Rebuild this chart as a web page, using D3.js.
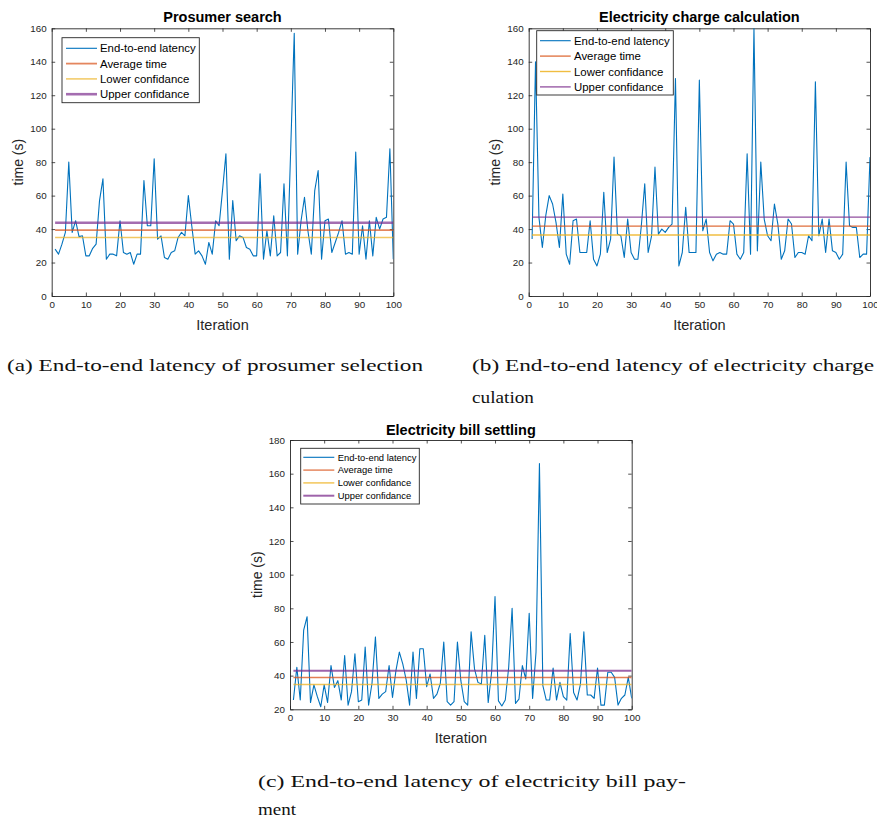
<!DOCTYPE html>
<html>
<head>
<meta charset="utf-8">
<script src="https://cdn.jsdelivr.net/npm/d3@7"></script>
<style>
body { margin: 0; background: #fff; }
svg text { font-family: "Liberation Sans", Arial, Helvetica, sans-serif; }
svg text.caption { font-family: "Liberation Serif", "Times New Roman", serif; fill: #111; }
</style>
</head>
<body>
<div id="svgContainer"></div>
<script>

var iterations = d3.range(1, 101);

// (a) prosumer search
var searchLatency = [28, 25, 31, 38, 80, 38, 45, 35.5, 36, 24,
                     24, 28.5, 31, 57, 70, 22, 25, 25, 24, 45,
                     26, 25, 26, 19, 25, 25, 69, 42, 42, 82,
                     34, 36, 23, 22, 26, 27, 35, 38, 36, 60,
                     42, 25, 27, 24, 19, 32, 25, 45, 42, 63,
                     85, 22, 57, 33, 36, 35, 29, 28, 24, 24,
                     73, 22, 39, 24, 48, 24, 26, 67, 24, 90,
                     157, 25, 45, 59, 39, 25, 63, 75, 22, 45,
                     46, 26, 32, 38, 45, 25, 26, 25, 86, 25,
                     42, 22, 45, 24, 47, 40, 46, 47, 88, 22];
var searchStats = [39.4, 35, 43.8];   // average, lower, upper

// (b) electricity charge calculation
var chargeLatency = [34, 140, 47, 29, 48, 60, 55, 44, 29, 61,
                     25, 19, 45, 46, 26, 26, 26, 45, 22, 18,
                     25, 62, 26, 34, 83, 37, 36, 23, 46, 26,
                     22, 22, 42, 67, 26, 36, 77, 37, 40, 38,
                     41, 43, 130, 18, 26, 53, 26, 26, 26, 129,
                     39, 46, 26, 21, 25, 26, 25, 25, 45, 43,
                     25, 22, 26, 85, 25, 160, 27, 80, 46, 36,
                     33, 55, 43, 22, 27, 46, 43, 23, 26, 26,
                     25, 36, 33, 128, 36, 46, 26, 46, 27, 26,
                     22, 25, 80, 42, 41, 41, 23, 25, 25, 83];
var chargeStats = [41.8, 36.5, 47.2];

// (c) electricity bill settling
var billLatency = [25.5, 45, 25.5, 67, 75, 24, 34.5, 27.5, 21.5, 34.5,
                   24, 46, 33, 37, 25.5, 52, 22.5, 30.5, 53, 24.5,
                   25.5, 57, 22.5, 35.5, 63, 26.5, 29, 30.5, 46, 27,
                   43, 54, 47, 37.5, 22.5, 54, 26.5, 56, 56, 33.5,
                   41, 26.5, 29, 35.5, 60, 24.5, 22.5, 24.5, 60, 37,
                   24.5, 22.5, 66, 44, 36, 35, 64, 24, 42, 87,
                   25, 22, 25.5, 45, 80, 23.5, 26, 46, 38, 77,
                   26.5, 54, 166, 34, 25.5, 25.5, 44.5, 25.5, 36, 27.5,
                   25.5, 65, 30, 25.5, 35, 66, 28.5, 28.5, 26.5, 44.5,
                   22.5, 22.5, 42, 42, 39, 22.5, 26.5, 28.5, 39, 26.5];
var billStats = [38.9, 34.8, 42.9];

var legendLabels = ["End-to-end latency", "Average time", "Lower confidance", "Upper confidance"];
var seriesColors = ["#0072BD", "#D95319", "#EDB120", "#7E2F8E"];
var xTickValues = [0, 10, 20, 30, 40, 50, 60, 70, 80, 90, 100];
var yTicksFromZero = [0, 20, 40, 60, 80, 100, 120, 140, 160];
var yTicksFromTwenty = [20, 40, 60, 80, 100, 120, 140, 160, 180];

var AXIS_COLOR = "#262626";
var TICK_LEN = 3.5;

var svg = d3.select("#svgContainer").append("svg")
            .attr("width", 877)
            .attr("height", 821);

var panels = [
    { id: "a", title: "Prosumer search", latency: searchLatency, stats: searchStats,
      yDomain: [0, 160], yTicks: yTicksFromZero,
      left: 51.7, right: 393.3, top: 28.3, bottom: 296, titleY: 22,
      legend: { x0: 62, y0: 37.7, x1: 199.3, y1: 102.7, row0: 48.3, rowH: 15.3,
                lx0: 66, lx1: 97, tx: 100, size: 11.4 },
      statWidth: [1.8, 1.5, 2.6], statOpacity: 0.7, yLabelX: 23 },
    { id: "b", title: "Electricity charge calculation", latency: chargeLatency, stats: chargeStats,
      yDomain: [0, 160], yTicks: yTicksFromZero,
      left: 528.7, right: 870, top: 28.3, bottom: 296, titleY: 22,
      legend: { x0: 536.7, y0: 30.7, x1: 673.3, y1: 95, row0: 40.7, rowH: 15.4,
                lx0: 540, lx1: 570.7, tx: 574, size: 11.4 },
      statWidth: [1.3, 1.4, 1.3], statOpacity: 0.85, yLabelX: 500 },
    { id: "c", title: "Electricity bill settling", latency: billLatency, stats: billStats,
      yDomain: [20, 180], yTicks: yTicksFromTwenty,
      left: 290, right: 631.7, top: 440, bottom: 709.3, titleY: 434.5,
      legend: { x0: 300.7, y0: 448.3, x1: 419.3, y1: 504, row0: 457.3, rowH: 12.8,
                lx0: 303.3, lx1: 334.3, tx: 337.7, size: 9.4 },
      statWidth: [1.4, 1.5, 2], statOpacity: 0.75, yLabelX: 262 }
];


function drawPanel(p)
{
    var x = d3.scaleLinear().domain([0, 100]).range([p.left, p.right]);
    var y = d3.scaleLinear().domain(p.yDomain).range([p.bottom, p.top]);
    var g = svg.append("g").attr("class", "panel-" + p.id);

    g.append("clipPath").attr("id", "clip-" + p.id)
     .append("rect")
     .attr("x", p.left).attr("y", p.top)
     .attr("width", p.right - p.left).attr("height", p.bottom - p.top);

    // inward ticks on all four sides, like matlab with box on
    var axes = [
        { gen: d3.axisBottom(x).tickValues(xTickValues).tickSizeInner(-TICK_LEN), at: "translate(0," + p.bottom + ")", labels: true },
        { gen: d3.axisTop(x).tickValues(xTickValues).tickSizeInner(-TICK_LEN), at: "translate(0," + p.top + ")", labels: false },
        { gen: d3.axisLeft(y).tickValues(p.yTicks).tickSizeInner(-TICK_LEN), at: "translate(" + p.left + ",0)", labels: true },
        { gen: d3.axisRight(y).tickValues(p.yTicks).tickSizeInner(-TICK_LEN), at: "translate(" + p.right + ",0)", labels: false }
    ];
    axes.forEach(function(a) {
        var ax = g.append("g").attr("transform", a.at)
                  .call(a.gen.tickSizeOuter(0).tickPadding(5));
        ax.select(".domain").attr("stroke", AXIS_COLOR).attr("stroke-width", 0.9);
        ax.selectAll(".tick line").attr("stroke", AXIS_COLOR).attr("stroke-width", 0.8);
        ax.selectAll(".tick text")
          .attr("fill", AXIS_COLOR)
          .style("font-size", "9.8px")
          .style("display", a.labels ? null : "none");
    });

    var plot = g.append("g").attr("clip-path", "url(#clip-" + p.id + ")");

    var line = d3.line()
                 .x(function(d, i) { return x(iterations[i]); })
                 .y(function(d) { return y(d); });

    plot.append("path")
        .datum(p.latency)
        .attr("d", line)
        .attr("fill", "none")
        .attr("stroke", seriesColors[0])
        .attr("stroke-width", 1.1)
        .attr("stroke-linejoin", "round");

    p.stats.forEach(function(v, k) {
        plot.append("line")
            .attr("x1", x(iterations[0])).attr("x2", x(iterations[iterations.length - 1]))
            .attr("y1", y(v)).attr("y2", y(v))
            .attr("stroke", seriesColors[k + 1])
            .attr("stroke-opacity", p.statOpacity)
            .attr("stroke-width", p.statWidth[k]);
    });

    // title and axis labels
    g.append("text")
     .attr("x", (p.left + p.right) / 2).attr("y", p.titleY)
     .attr("text-anchor", "middle")
     .style("font-size", "14.5px").style("font-weight", "bold")
     .attr("fill", "#000")
     .text(p.title);

    g.append("text")
     .attr("x", (p.left + p.right) / 2).attr("y", p.bottom + 34)
     .attr("text-anchor", "middle")
     .style("font-size", "14.5px")
     .attr("fill", AXIS_COLOR)
     .text("Iteration");

    g.append("text")
     .attr("transform", "translate(" + p.yLabelX + "," + ((p.top + p.bottom) / 2) + ") rotate(-90)")
     .attr("text-anchor", "middle")
     .style("font-size", "14px")
     .attr("fill", AXIS_COLOR)
     .text("time (s)");

    // legend
    var L = p.legend;
    var leg = g.append("g");
    leg.append("rect")
       .attr("x", L.x0).attr("y", L.y0)
       .attr("width", L.x1 - L.x0).attr("height", L.y1 - L.y0)
       .attr("fill", "#fff")
       .attr("stroke", AXIS_COLOR).attr("stroke-width", 0.9);

    var rows = leg.selectAll(".row")
                  .data(legendLabels)
                  .enter().append("g")
                  .attr("class", "row")
                  .attr("transform", function(d, i) { return "translate(0," + (L.row0 + i * L.rowH) + ")"; });
    rows.append("line")
        .attr("x1", L.lx0).attr("x2", L.lx1)
        .attr("stroke", function(d, i) { return seriesColors[i]; })
        .attr("stroke-opacity", function(d, i) { return i === 0 ? 1 : p.statOpacity; })
        .attr("stroke-width", function(d, i) { return i === 0 ? 1.1 : p.statWidth[i - 1]; });
    rows.append("text")
        .attr("x", L.tx).attr("dy", "0.35em")
        .style("font-size", L.size + "px")
        .attr("fill", "#000")
        .text(function(d) { return d; });
}

panels.forEach(drawPanel);


// sub-figure captions
var captions = [
    { text: "(a) End-to-end latency of prosumer selection", x: 7, y: 371, len: 416 },
    { text: "(b) End-to-end latency of electricity charge", x: 472, y: 371, len: 402 },
    { text: "culation", x: 472, y: 403, len: 62 },
    { text: "(c) End-to-end latency of electricity bill pay-", x: 258, y: 787, len: 428 },
    { text: "ment", x: 258, y: 815, len: 38 }
];

captions.forEach(function(c) {
    svg.append("text")
       .attr("class", "caption")
       .attr("x", c.x).attr("y", c.y)
       .style("font-size", "17px")
       .attr("textLength", c.len)
       .attr("lengthAdjust", "spacingAndGlyphs")
       .text(c.text);
});

</script>
</body>
</html>
